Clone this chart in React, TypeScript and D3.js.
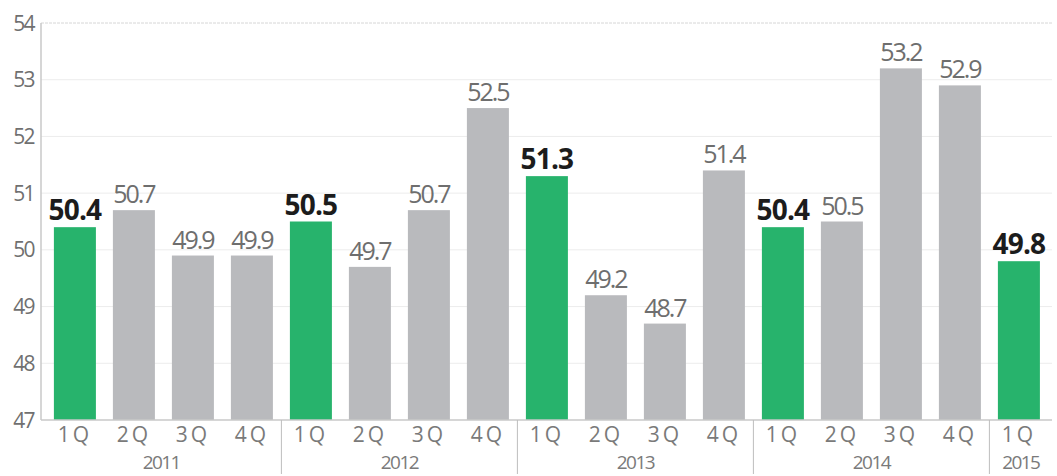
import React from "react";
import * as d3 from "d3";

const quarters = ["1Q", "2Q", "3Q", "4Q", "1Q", "2Q", "3Q", "4Q", "1Q", "2Q", "3Q", "4Q", "1Q", "2Q", "3Q", "4Q", "1Q"];
const yearOf = ["2011", "2011", "2011", "2011", "2012", "2012", "2012", "2012", "2013", "2013", "2013", "2013", "2014", "2014", "2014", "2014", "2015"];
const years = ["2011", "2012", "2013", "2014", "2015"];
const values = [50.4, 50.7, 49.9, 49.9, 50.5, 49.7, 50.7, 52.5, 51.3, 49.2, 48.7, 51.4, 50.4, 50.5, 53.2, 52.9, 49.8];
const yTicks = [47, 48, 49, 50, 51, 52, 53, 54];

const W = 1057;
const H = 476;
const GREEN = "#27b36c";
const GRAY = "#b9babd";
const FONT = "'Open Sans', 'Noto Sans', sans-serif";

export default function App() {
  const idx = values.map((_, i) => i);
  const x = d3
    .scaleBand<number>()
    .domain(idx)
    .range([45.4, 1048.4])
    .paddingInner(0.288)
    .paddingOuter(0.144);
  const y = d3.scaleLinear().domain([47, 54]).range([420, 23]);
  const step = x.step();
  const gap = step - x.bandwidth();
  const axisLeft = 41;
  const axisRight = 1052;

  const yearBlocks = years.map((yr, k) => {
    const ids = idx.filter((i) => yearOf[i] === yr);
    const first = ids[0];
    const last = ids[ids.length - 1];
    const start = k === 0 ? axisLeft : (x(first) as number) - gap / 2;
    const end = k === years.length - 1 ? axisRight : (x(last) as number) + x.bandwidth() + gap / 2;
    return { yr, start, end, first };
  });

  return (
    <div style={{ position: "fixed", left: 0, top: 0 }}>
      <svg width={W} height={H} style={{ display: "block", background: "#fff" }}>
        {/* gridlines */}
        {yTicks.slice(1).map((t) => (
          <line
            key={"g" + t}
            x1={axisLeft}
            x2={axisRight}
            y1={y(t)}
            y2={y(t)}
            stroke={t === 54 ? "#d6d6d6" : "#ececec"}
            strokeWidth={1}
            strokeDasharray={t === 54 ? "3 1" : undefined}
          />
        ))}
        {/* y tick labels */}
        {yTicks.map((t) => (
          <text
            key={"yl" + t}
            x={34}
            y={y(t)}
            dy="0.36em"
            textAnchor="end"
            fontFamily={FONT}
            fontSize={21}
            fontWeight={400}
            letterSpacing={-1.6}
            fill="#707070"
          >
            {t}
          </text>
        ))}
        {/* bars */}
        {values.map((v, i) => (
          <rect
            key={"b" + i}
            x={x(i)}
            y={y(v)}
            width={x.bandwidth()}
            height={y(47) - y(v)}
            fill={quarters[i] === "1Q" ? GREEN : GRAY}
          />
        ))}
        {/* axes */}
        <line x1={axisLeft} x2={axisLeft} y1={y(54)} y2={y(47)} stroke="#c8c8c8" strokeWidth={1.5} />
        <line x1={axisLeft} x2={axisRight} y1={y(47)} y2={y(47)} stroke="#c8c8c8" strokeWidth={1.5} />
        {/* value labels */}
        {values.map((v, i) => {
          const hi = quarters[i] === "1Q";
          return (
            <text
              key={"v" + i}
              x={(x(i) as number) + x.bandwidth() / 2}
              y={y(v) - 7}
              textAnchor="middle"
              fontFamily={FONT}
              fontSize={hi ? 28 : 25}
              fontWeight={hi ? 700 : 400}
              letterSpacing={hi ? -0.8 : -2}
              fill={hi ? "#1c1c1c" : "#6e6e6e"}
            >
              {v.toFixed(1)}
            </text>
          );
        })}
        {/* quarter labels */}
        {quarters.map((q, i) => (
          <text
            key={"q" + i}
            x={(x(i) as number) + x.bandwidth() / 2}
            y={442}
            textAnchor="middle"
            fontFamily={FONT}
            fontSize={21}
            fontWeight={400}
            letterSpacing={3}
            fill="#7a7a7a"
          >
            {q}
          </text>
        ))}
        {/* year separators */}
        {yearBlocks.slice(1).map((b) => (
          <line key={"s" + b.yr} x1={b.start} x2={b.start} y1={y(47)} y2={474} stroke="#bdbdbd" strokeWidth={1} />
        ))}
        {/* year labels */}
        {yearBlocks.map((b) => (
          <text
            key={"y" + b.yr}
            x={(b.start + b.end) / 2}
            y={469}
            textAnchor="middle"
            fontFamily={FONT}
            fontSize={19}
            fontWeight={400}
            letterSpacing={-1.6}
            fill="#7a7a7a"
          >
            {b.yr}
          </text>
        ))}
      </svg>
    </div>
  );
}
